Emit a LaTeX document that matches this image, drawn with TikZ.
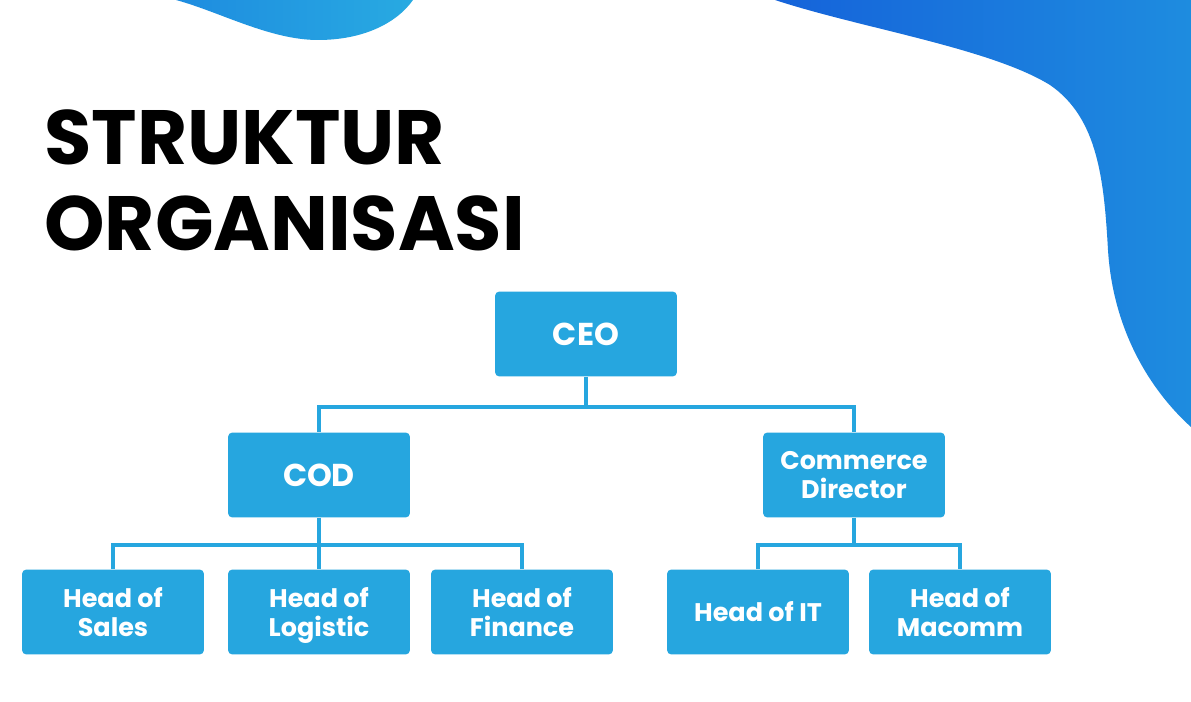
\documentclass[tikz,border=0pt]{standalone}
\usepackage{fontspec}
\setmainfont{Poppins}
\usepackage{xcolor}
\usetikzlibrary{positioning}

\definecolor{boxblue}{HTML}{26A6DF}
\definecolor{waveA}{HTML}{1E8CE0}
\definecolor{waveB}{HTML}{28AAE1}
\definecolor{waveC}{HTML}{1563DA}
\definecolor{waveD}{HTML}{1E8CDF}

\begin{document}
\begin{tikzpicture}[x=0.02cm,y=-0.02cm,
	post/.style={fill=boxblue, rounded corners=2.5pt, text=white, align=center,
		minimum width=3.64cm, minimum height=1.7cm, inner sep=0pt, text depth=0pt,
		font=\fontsize{14.5}{16.6}\selectfont\bfseries},
	bigpost/.style={post, font=\fontsize{18}{20}\selectfont\bfseries},
	link/.style={draw=boxblue, line width=2.2pt}]
		\useasboundingbox[fill=white] (0,0) rectangle (1191,702);
		% waves
		\shade[left color=waveA, right color=waveB] (176,0) .. controls (220,12) and (270,40) .. (318,40) .. controls (362,40) and (396,24) .. (413,0) -- cycle;
		\shade[left color=waveC, right color=waveD] (775,0) .. controls (860,28) and (990,48) .. (1050,85) .. controls (1098,118) and (1104,180) .. (1108,250) .. controls (1113,330) and (1150,390) .. (1191,427) -- (1191,0) -- cycle;
		% title
		\node[anchor=base west, align=left, inner sep=0pt, font=\fontsize{43.8}{49}\selectfont\bfseries] (title) at (44,251) {STRUKTUR\\ORGANISASI};
		% boxes
		\node[bigpost] (ceo) at (586,334) {CEO};
		\node[bigpost] (cod) at (319,475) {COD};
		\node[post] (cd) at (854,475) {Commerce\\Director};
		\node[post] (sales) at (113,612) {Head of\\Sales};
		\node[post] (logistic) at (319,612) {Head of\\Logistic};
		\node[post] (finance) at (522,612) {Head of\\Finance};
		\node[post] (it) at (758,612) {Head of IT};
		\node[post] (macomm) at (960,612) {Head of\\Macomm};
		% lines
		\draw[link] (ceo.south) -- ++(0,30) -| (cod.north);
		\draw[link] (ceo.south) -- ++(0,30) -| (cd.north);
		\draw[link] (cod.south) -- ++(0,27) -| (sales.north);
		\draw[link] (cod.south) -- (logistic.north);
		\draw[link] (cod.south) -- ++(0,27) -| (finance.north);
		\draw[link] (cd.south) -- ++(0,27) -| (it.north);
		\draw[link] (cd.south) -- ++(0,27) -| (macomm.north);
\end{tikzpicture}
\end{document}
